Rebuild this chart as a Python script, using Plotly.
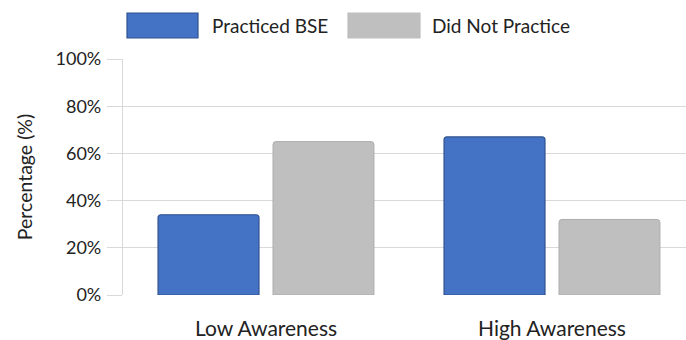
import plotly.graph_objects as go

# Data
categories = ["Low Awareness", "High Awareness"]
series_names = ["Practiced BSE", "Did Not Practice"]
practiced_bse = [34, 67]
did_not_practice = [65, 32]
y_ticks = [0, 20, 40, 60, 80, 100]
y_tick_labels = [f"{v}%" for v in y_ticks]

FONT = "Lato"
BLUE = "#4472C4"
BLUE_EDGE = "#2F528F"
GRAY = "#BFBFBF"
GRAY_EDGE = "#ADADAD"
GRID = "#D9D9D9"
TEXT = "#222222"

W, H = 686, 340
L, R, T, B = 123, 0, 59, 45
plot_w, plot_h = W - L - R, H - T - B
cat_px = 286  # pixel spacing between category centres

fig = go.Figure()
fig.add_bar(x=categories, y=practiced_bse, name=series_names[0],
            marker=dict(color=BLUE, line=dict(color=BLUE_EDGE, width=1.2)))
fig.add_bar(x=categories, y=did_not_practice, name=series_names[1],
            marker=dict(color=GRAY, line=dict(color=GRAY_EDGE, width=1)))

# Custom wide legend swatches above the plot
def px_x(p):
    return (p - L) / plot_w

def px_y(p):
    return (H - B - p) / plot_h

legend_items = [
    (127, 198, 210, BLUE, BLUE_EDGE, series_names[0]),
    (348, 420, 430, GRAY, GRAY, series_names[1]),
]
for x0, x1, tx, fill, edge, label in legend_items:
    fig.add_shape(type="rect", xref="paper", yref="paper",
                  x0=px_x(x0), x1=px_x(x1), y0=px_y(38), y1=px_y(13),
                  fillcolor=fill, line=dict(color=edge, width=1.2))
    fig.add_annotation(xref="paper", yref="paper", x=px_x(tx), y=px_y(25.5),
                       text=label, showarrow=False, xanchor="left", yanchor="middle",
                       font=dict(family=FONT, size=19, color=TEXT))

fig.update_layout(
    width=W, height=H,
    margin=dict(l=L, r=R, t=T, b=B, autoexpand=False),
    paper_bgcolor="white", plot_bgcolor="white",
    barmode="group", bargap=0.196, bargroupgap=0.122,
    barcornerradius=3,
    showlegend=False,
    font=dict(family=FONT, color=TEXT),
    xaxis=dict(
        range=[-0.5, -0.5 + plot_w / cat_px], automargin=False,
        showgrid=False, showline=False, ticks="",
        tickfont=dict(family=FONT, size=21, color=TEXT),
        ticklabelstandoff=19,
    ),
    yaxis=dict(
        range=[0, 100], tickmode="array", tickvals=y_ticks, ticktext=y_tick_labels,
        automargin=False,
        showgrid=True, gridcolor=GRID, gridwidth=1.2,
        showline=True, linecolor=GRID, linewidth=1.2,
        ticks="outside", ticklen=15, tickcolor=GRID, tickwidth=1.2,
        tickfont=dict(family=FONT, size=18, color=TEXT),
        ticklabelstandoff=2,
        zeroline=False,
        title=dict(text="Percentage (%)", standoff=17,
                   font=dict(family=FONT, size=19.5, color=TEXT)),
    ),
)

fig.write_html("out.html")
